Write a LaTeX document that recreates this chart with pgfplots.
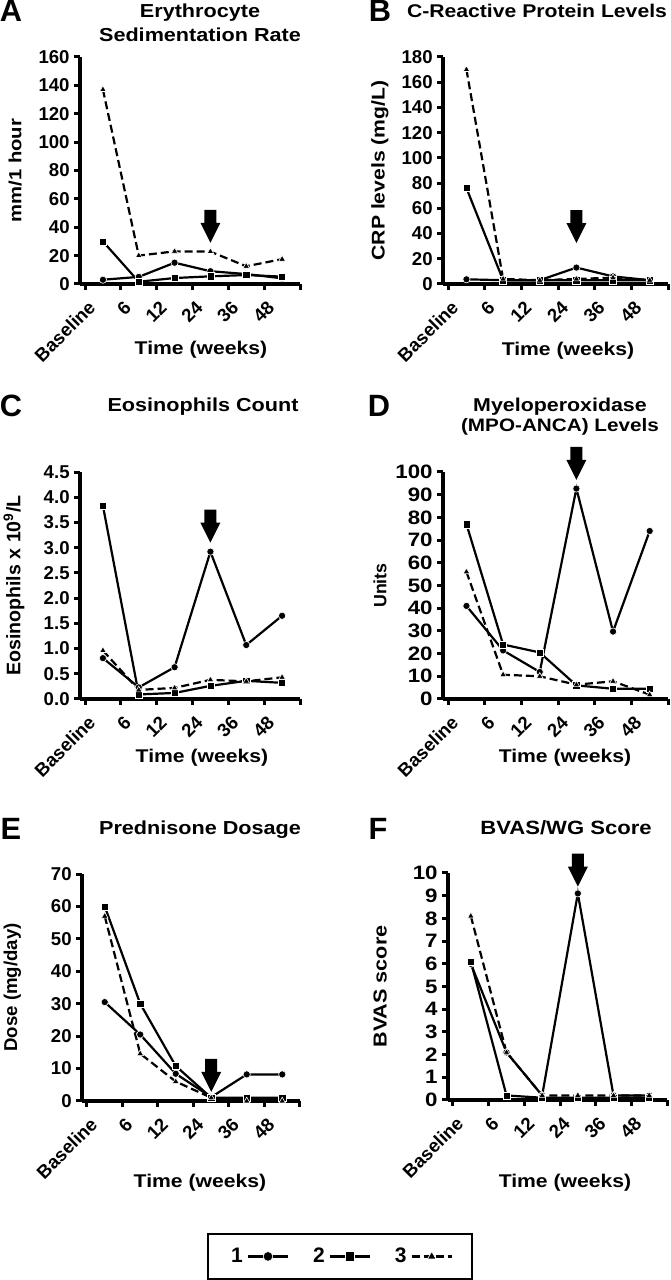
\documentclass[border=0pt]{standalone}
\usepackage{fontspec}
\setmainfont{Liberation Sans}
\newfontfamily\wf{Liberation Sans}[FakeStretch=1.15]
\usepackage{pgfplots}
\pgfplotsset{compat=1.18}
\newcommand{\tf}{\bfseries\fontsize{9.3}{11}\selectfont}
\newcommand{\wfs}[1]{\wf\bfseries\fontsize{#1}{11}\selectfont}
\newcommand{\bigf}{\bfseries\fontsize{15.4}{17}\selectfont}
\newcommand{\downarrowat}[2]{\fill[black] (axis cs:#1,#2) -- ++(-5pt,10pt) -- ++(2pt,0pt) -- ++(0pt,6.5pt) -- ++(6pt,0pt) -- ++(0pt,-6.5pt) -- ++(2pt,0pt) -- cycle;}
\pgfplotsset{
  panel/.style={
    scale only axis, anchor=south west, clip=false,
    axis x line*=bottom, axis y line*=left,
    axis line style={line width=2pt, black},
    xmin=-0.14, xmax=6, xtick={0,1,2,3,4,5,6},
    xticklabels={Baseline,6,12,24,36,48,{}},
    tick align=outside, major tick length=3pt,
    tick style={line width=1.5pt, black},
    xticklabel style={xshift=3.5pt, yshift=-7pt, rotate=45, anchor=east, inner sep=0pt, font=\tf},
    yticklabel style={inner sep=0pt, xshift=-2pt, font=\tf},
    /pgf/number format/assume math mode=true,
    ylabel style={font=\tf, anchor=center},
    legend image code/.code={\draw[mark repeat=2, mark phase=2, #1] plot coordinates {(0pt,0pt) (10pt,0pt) (20pt,0pt)};},
  },
  s1/.style={black, line width=1.1pt, solid, mark=*, mark size=1.8pt, mark options={solid, fill=black, draw=white, line width=0.3pt}},
  s2/.style={black, line width=1.1pt, solid, mark=square*, mark size=1.8pt, mark options={solid, fill=black, draw=white, line width=0.3pt}},
  s3/.style={black, line width=1.1pt, dash pattern=on 4pt off 2pt, mark=triangle*, mark size=1.9pt, mark options={solid, fill=black, draw=white, line width=0.3pt}},
}
\begin{document}
\begin{tikzpicture}
\useasboundingbox (0pt,0pt) rectangle (335pt,640pt);
% ---------------- A
\begin{axis}[panel, at={(40pt,498pt)}, width=110pt, height=113.5pt,
  ymin=0, ymax=160, ytick={0,20,...,160},
  ylabel={mm/1 hour}, ylabel style={at={(axis description cs:-0.295,0.5)}, font=\wfs{8.8}}]
\addplot[s1] coordinates {(0.5,3) (1.5,5) (2.5,15) (3.5,9) (4.5,7) (5.5,4)};
\addplot[s2] coordinates {(0.5,30) (1.5,1.6) (2.5,4.2) (3.5,5.4) (4.5,6.3) (5.5,5.2)};
\addplot[s3] coordinates {(0.5,137) (1.5,20) (2.5,23) (3.5,22.8) (4.5,12.5) (5.5,17.5)};
\downarrowat{3.5}{29}
\end{axis}
% ---------------- B
\begin{axis}[panel, at={(221.5pt,498pt)}, width=112.5pt, height=113.5pt,
  ymin=0, ymax=180, ytick={0,20,...,180},
  ylabel={CRP levels (mg/L)}, ylabel style={at={(axis description cs:-0.28,0.5)}, font=\wfs{9.2}}]
\addplot[s1] coordinates {(0.5,3.7) (1.5,3) (2.5,3) (3.5,13) (4.5,6) (5.5,3)};
\addplot[s2] coordinates {(0.5,76) (1.5,3) (2.5,3) (3.5,3) (4.5,3) (5.5,3)};
\addplot[s3] coordinates {(0.5,170) (1.5,4) (2.5,3) (3.5,4) (4.5,5) (5.5,3)};
\downarrowat{3.5}{32.5}
\end{axis}
% ---------------- C
\begin{axis}[panel, at={(40pt,290.5pt)}, width=110pt, height=113.5pt,
  ymin=0, ymax=4.5, ytick={0,0.5,...,4.5},
  yticklabel style={/pgf/number format/fixed, /pgf/number format/fixed zerofill, /pgf/number format/precision=1},
  ylabel={Eosinophils x 10\textsuperscript{9}/L}, ylabel style={at={(axis description cs:-0.3,0.5)}, font=\bfseries\fontsize{9.8}{11}\selectfont}]
\addplot[s1] coordinates {(0.5,0.81) (1.5,0.23) (2.5,0.63) (3.5,2.92) (4.5,1.07) (5.5,1.65)};
\addplot[s2] coordinates {(0.5,3.83) (1.5,0.09) (2.5,0.12) (3.5,0.26) (4.5,0.36) (5.5,0.32)};
\addplot[s3] coordinates {(0.5,0.96) (1.5,0.18) (2.5,0.22) (3.5,0.38) (4.5,0.35) (5.5,0.43)};
\downarrowat{3.5}{3.1}
\end{axis}
% ---------------- D
\begin{axis}[panel, at={(221.5pt,290.5pt)}, width=112.5pt, height=113.5pt,
  ymin=0, ymax=100, ytick={0,10,...,100},
  yticklabel style={font=\wfs{9.7}},
  ylabel={Units}, ylabel style={at={(axis description cs:-0.28,0.5)}, font=\bfseries\fontsize{8.9}{11}\selectfont}]
\addplot[s1] coordinates {(0.5,41) (1.5,21.4) (2.5,11.9) (3.5,92.7) (4.5,29.7) (5.5,74)};
\addplot[s2] coordinates {(0.5,77) (1.5,24) (2.5,20.5) (3.5,6) (4.5,4.5) (5.5,4.5)};
\addplot[s3] coordinates {(0.5,56) (1.5,10.7) (2.5,10) (3.5,6.3) (4.5,7.8) (5.5,1.9)};
\downarrowat{3.5}{96.5}
\end{axis}
% ---------------- E
\begin{axis}[panel, at={(41pt,89.5pt)}, width=109pt, height=113.5pt,
  ymin=0, ymax=70, ytick={0,10,...,70},
  ylabel={Dose (mg/day)}, ylabel style={at={(axis description cs:-0.32,0.5)}}]
\addplot[s1] coordinates {(0.5,30.5) (1.5,20.5) (2.5,8.4) (3.5,1.2) (4.5,8.2) (5.5,8.2)};
\addplot[s2] coordinates {(0.5,60) (1.5,30) (2.5,10.8) (3.5,1) (4.5,1) (5.5,1)};
\addplot[s3] coordinates {(0.5,57) (1.5,14.6) (2.5,6) (3.5,1) (4.5,0) (5.5,0)};
\downarrowat{3.5}{2.8}
\end{axis}
% ---------------- F
\begin{axis}[panel, at={(224pt,90pt)}, width=109.5pt, height=113.5pt,
  ymin=0, ymax=10, ytick={0,1,...,10},
  yticklabel style={font=\wfs{9.7}},
  ylabel={BVAS score}, ylabel style={at={(axis description cs:-0.31,0.5)}, font=\wfs{9.4}},
  legend columns=3, legend plot pos=right,
  legend image post style={mark size=2.4pt},
  legend style={at={(axis description cs:-0.493,-0.689)}, anchor=center,
    draw=black, line width=1pt, font=\bfseries\fontsize{10.5}{12}\selectfont,
    inner xsep=9.5pt, inner ysep=4.75pt,
    /tikz/every even column/.append style={column sep=10pt}}]
\addplot[s1] coordinates {(0.5,6) (1.5,2.1) (2.5,0.2) (3.5,9.1) (4.5,0.2) (5.5,0.2)};
\addplot[s2] coordinates {(0.5,6.1) (1.5,0.2) (2.5,0.1) (3.5,0.1) (4.5,0.1) (5.5,0.1)};
\addplot[s3] coordinates {(0.5,8.1) (1.5,2.1) (2.5,0.2) (3.5,0.2) (4.5,0.2) (5.5,0.2)};
\legend{1,2,3}
\downarrowat{3.5}{9.4}
\end{axis}
% ---------------- titles and letters
\node[anchor=base, font=\wfs{9.4}] at (100pt,631pt) {Erythrocyte};
\node[anchor=base, font=\wfs{9.4}] at (100pt,619pt) {Sedimentation Rate};
\node[anchor=base, font=\wfs{9.2}] at (268.5pt,631pt) {C-Reactive Protein Levels};
\node[anchor=base, font=\wfs{9.4}] at (101.5pt,434pt) {Eosinophils Count};
\node[anchor=base, font=\wfs{9.3}] at (280pt,434pt) {Myeloperoxidase};
\node[anchor=base, font=\wfs{9.0}] at (280pt,424pt) {(MPO-ANCA) Levels};
\node[anchor=base, font=\wfs{9.4}] at (100pt,222.5pt) {Prednisone Dosage};
\node[anchor=base, font=\wfs{9.6}] at (283pt,222.5pt) {BVAS/WG Score};
\node[anchor=base, font=\bigf] at (5.5pt,629pt) {A};
\node[anchor=base, font=\bigf] at (190pt,629pt) {B};
\node[anchor=base, font=\bigf] at (5.5pt,431.5pt) {C};
\node[anchor=base, font=\bigf] at (189.5pt,431.5pt) {D};
\node[anchor=base, font=\bigf] at (5.5pt,220pt) {E};
\node[anchor=base, font=\bigf] at (189pt,220pt) {F};
\node[anchor=base, font=\wfs{9.2}] at (100.5pt,462.5pt) {Time (weeks)};
\node[anchor=base, font=\wfs{9.2}] at (284pt,462pt) {Time (weeks)};
\node[anchor=base, font=\wfs{9.2}] at (101pt,258.5pt) {Time (weeks)};
\node[anchor=base, font=\wfs{9.2}] at (282.5pt,258.5pt) {Time (weeks)};
\node[anchor=base, font=\wfs{9.2}] at (100pt,46pt) {Time (weeks)};
\node[anchor=base, font=\wfs{9.2}] at (282.5pt,46pt) {Time (weeks)};
\end{tikzpicture}
\end{document}
